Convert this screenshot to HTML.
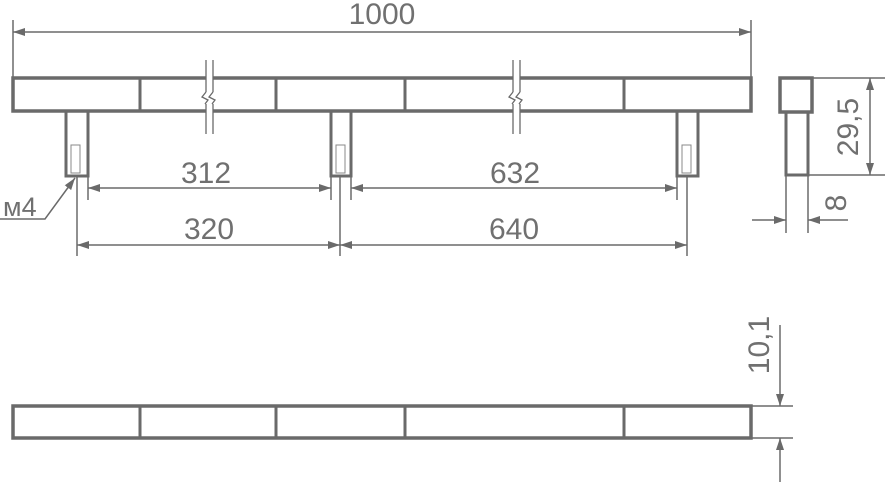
<!DOCTYPE html>
<html><head><meta charset="utf-8"><style>
html,body{margin:0;padding:0;background:#fff;width:885px;height:483px;overflow:hidden}
svg{display:block}
text{font-family:"Liberation Sans",sans-serif;fill:#707070}
</style></head><body>
<svg width="885" height="483" viewBox="0 0 885 483">
<defs>
<marker id="a" viewBox="0 0 12 8" refX="12" refY="4" markerWidth="12" markerHeight="8" markerUnits="userSpaceOnUse" orient="auto-start-reverse"><path d="M0,0L12,4L0,8z" fill="#6a6a6a"/></marker>
</defs>
<g stroke="#6a6a6a" fill="none">
<rect x="13" y="78" width="738" height="33" stroke-width="3.5"/>
<g stroke-width="3"><line x1="140" y1="78" x2="140" y2="111"/><line x1="276" y1="78" x2="276" y2="111"/><line x1="405" y1="78" x2="405" y2="111"/><line x1="624" y1="78" x2="624" y2="111"/></g>
<g stroke-width="1.3">
<rect x="206" y="60" width="7" height="74" fill="#fff" stroke="none"/>
<line x1="206" y1="60" x2="206" y2="92"/><line x1="213" y1="60" x2="213" y2="92"/>
<line x1="206" y1="104" x2="206" y2="134"/><line x1="213" y1="104" x2="213" y2="134"/>
<path d="M206,92 L202,97 L208,100 L205,104 M213,92 L209,97 L215,100 L212,104"/>
<rect x="513" y="60" width="7" height="74" fill="#fff" stroke="none"/>
<line x1="513" y1="60" x2="513" y2="92"/><line x1="520" y1="60" x2="520" y2="92"/>
<line x1="513" y1="104" x2="513" y2="134"/><line x1="520" y1="104" x2="520" y2="134"/>
<path d="M513,92 L509,97 L515,100 L512,104 M520,92 L516,97 L522,100 L519,104"/>
</g>
<g stroke-width="3">
<path d="M66,111 V176 H88 V111"/>
<path d="M331,111 V176 H351 V111"/>
<path d="M677,111 V176 H698 V111"/>
</g>
<g stroke-width="1" stroke="#888">
<rect x="71" y="145" width="9" height="28"/><rect x="336" y="145" width="9" height="28"/><rect x="682" y="145" width="9" height="28"/>
</g>
<g stroke-width="1.5">
<line x1="13" y1="20" x2="13" y2="78"/><line x1="751" y1="20" x2="751" y2="78"/>
<line x1="13" y1="32" x2="751" y2="32" marker-start="url(#a)" marker-end="url(#a)"/>
<line x1="88" y1="176" x2="88" y2="200"/><line x1="331" y1="176" x2="331" y2="200"/>
<line x1="351" y1="176" x2="351" y2="200"/><line x1="677" y1="176" x2="677" y2="200"/>
<line x1="88" y1="188" x2="331" y2="188" marker-start="url(#a)" marker-end="url(#a)"/>
<line x1="351" y1="188" x2="677" y2="188" marker-start="url(#a)" marker-end="url(#a)"/>
<line x1="77" y1="176" x2="77" y2="256"/><line x1="340" y1="176" x2="340" y2="256"/><line x1="687" y1="176" x2="687" y2="256"/>
<line x1="77" y1="245" x2="340" y2="245" marker-start="url(#a)" marker-end="url(#a)"/>
<line x1="340" y1="245" x2="687" y2="245" marker-start="url(#a)" marker-end="url(#a)"/>
<path d="M0,219 H45 L75,178" marker-end="url(#a)"/>
</g>
<rect x="780" y="78" width="32" height="34" stroke-width="3.5"/>
<path d="M786,112 V175 H808 V112" stroke-width="3"/>
<g stroke-width="1.5">
<line x1="812" y1="78" x2="885" y2="78"/><line x1="808" y1="175" x2="885" y2="175"/>
<line x1="870" y1="78" x2="870" y2="175" marker-start="url(#a)" marker-end="url(#a)"/>
<line x1="786" y1="175" x2="786" y2="233"/><line x1="808" y1="175" x2="808" y2="233"/>
<line x1="752" y1="220" x2="786" y2="220" marker-end="url(#a)"/>
<line x1="848" y1="220" x2="808" y2="220" marker-end="url(#a)"/>
</g>
<rect x="13" y="406" width="738" height="32" stroke-width="3.5"/>
<g stroke-width="3"><line x1="140" y1="406" x2="140" y2="438"/><line x1="276" y1="406" x2="276" y2="438"/><line x1="405" y1="406" x2="405" y2="438"/><line x1="624" y1="406" x2="624" y2="438"/></g>
<g stroke-width="1.5">
<line x1="751" y1="406" x2="793" y2="406"/><line x1="751" y1="438" x2="793" y2="438"/>
<line x1="780" y1="325" x2="780" y2="406" marker-end="url(#a)"/>
<line x1="780" y1="482" x2="780" y2="438" marker-end="url(#a)"/>
</g>
</g>
<g font-size="30">
<text x="382" y="24" text-anchor="middle">1000</text>
<text x="206" y="183" text-anchor="middle">312</text>
<text x="515" y="183" text-anchor="middle">632</text>
<text x="209" y="239" text-anchor="middle">320</text>
<text x="514" y="239" text-anchor="middle">640</text>
<text x="3" y="216" font-size="27">м4</text>
<text transform="translate(858,127) rotate(-90)" text-anchor="middle">29,5</text>
<text transform="translate(846,203) rotate(-90)" text-anchor="middle">8</text>
<text transform="translate(769,345) rotate(-90)" text-anchor="middle">10,1</text>
</g>
</svg>
</body></html>
